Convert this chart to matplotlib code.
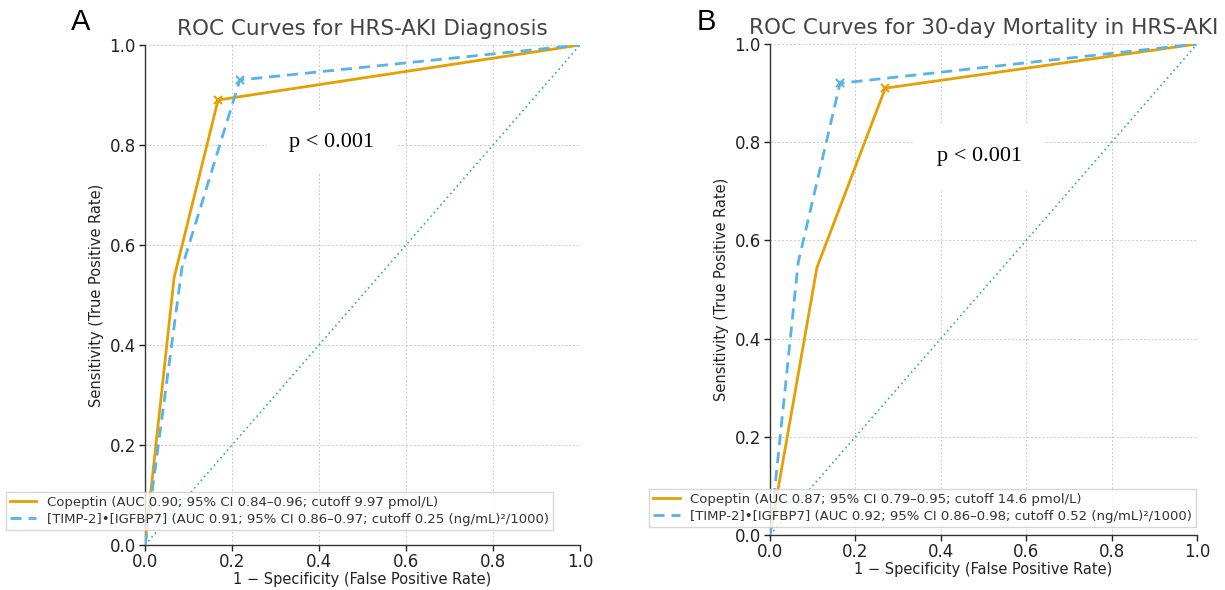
import matplotlib
matplotlib.use("Agg")
import matplotlib.pyplot as plt

# Panel A: HRS-AKI diagnosis
fpr_cop_a = [0.0, 0.067, 0.168, 1.0]
tpr_cop_a = [0.0, 0.535, 0.89, 1.0]
fpr_tim_a = [0.0, 0.085, 0.218, 1.0]
tpr_tim_a = [0.0, 0.555, 0.93, 1.0]
cut_cop_a = (0.168, 0.89)
cut_tim_a = (0.218, 0.93)

# Panel B: 30-day mortality
fpr_cop_b = [0.0, 0.11, 0.27, 1.0]
tpr_cop_b = [0.0, 0.545, 0.91, 1.0]
fpr_tim_b = [0.0, 0.066, 0.164, 1.0]
tpr_tim_b = [0.0, 0.555, 0.92, 1.0]
cut_cop_b = (0.27, 0.91)
cut_tim_b = (0.164, 0.92)

titles = ["ROC Curves for HRS-AKI Diagnosis", "ROC Curves for 30-day Mortality in HRS-AKI"]
labels_a = ["Copeptin (AUC 0.90; 95% CI 0.84–0.96; cutoff 9.97 pmol/L)",
            "[TIMP-2]•[IGFBP7] (AUC 0.91; 95% CI 0.86–0.97; cutoff 0.25 (ng/mL)²/1000)"]
labels_b = ["Copeptin (AUC 0.87; 95% CI 0.79–0.95; cutoff 14.6 pmol/L)",
            "[TIMP-2]•[IGFBP7] (AUC 0.92; 95% CI 0.86–0.98; cutoff 0.52 (ng/mL)²/1000)"]
ticks = [0.0, 0.2, 0.4, 0.6, 0.8, 1.0]

ORANGE = "#E69F00"
BLUE = "#56B4E9"
GREEN = "#2bb58a"
GRAY = "#444444"

W, H = 1225, 590
fig = plt.figure(figsize=(W / 100, H / 100), dpi=100)

def px_axes(x0, x1, ytop, ybot):
    return fig.add_axes([x0 / W, 1 - ybot / H, (x1 - x0) / W, (ybot - ytop) / H])

axA = px_axes(145, 580, 45, 545)
axB = px_axes(770, 1197, 44, 535)

panels = [
    (axA, fpr_cop_a, tpr_cop_a, fpr_tim_a, tpr_tim_a, cut_cop_a, cut_tim_a, labels_a, titles[0],
     (0.43, 0.805), (553, 530)),
    (axB, fpr_cop_b, tpr_cop_b, fpr_tim_b, tpr_tim_b, cut_cop_b, cut_tim_b, labels_b, titles[1],
     (0.49, 0.77), (1196, 527)),
]

for ax, fc, tc, ft, tt, cc, ct, labs, title, ppos, legpos in panels:
    ax.plot(fc, tc, color=ORANGE, lw=2, label=labs[0], zorder=3)
    ax.plot(ft, tt, color=BLUE, lw=2, ls=(0, (4, 2.5)), label=labs[1], zorder=3)
    ax.plot([cc[0]], [cc[1]], marker="x", color=ORANGE, ms=6, mew=1.5, zorder=4)
    ax.plot([ct[0]], [ct[1]], marker="x", color=BLUE, ms=6, mew=1.5, zorder=4)
    ax.plot([0, 1], [0, 1], color=GREEN, lw=1.2, ls=(0, (1, 2)), zorder=2)
    ax.set_xlim(0, 1)
    ax.set_ylim(0, 1)
    ax.set_xticks(ticks)
    ax.set_yticks(ticks)
    ax.grid(True, color="#cccccc", ls=(0, (2, 2)), lw=0.7)
    ax.set_axisbelow(True)
    for s in ["top", "right"]:
        ax.spines[s].set_visible(False)
    for s in ["left", "bottom"]:
        ax.spines[s].set_color("#333333")
        ax.spines[s].set_linewidth(1.0)
    ax.tick_params(labelsize=12, colors="#222222", length=4, width=1)
    ax.tick_params(axis="x", pad=1.5)
    ax.tick_params(axis="y", pad=2.5)
    ax.set_xlabel("1 − Specificity (False Positive Rate)", fontsize=10.5, color="#222222", labelpad=1)
    ax.set_ylabel("Sensitivity (True Positive Rate)", fontsize=10.5, color="#222222")
    ax.set_title(title, fontsize=15.5, color=GRAY, pad=7)
    ax.text(ppos[0], ppos[1], "p < 0.001", transform=ax.transAxes, ha="center", va="center",
            fontsize=16, family="Liberation Serif", zorder=5,
            bbox=dict(boxstyle="square,pad=1.0", fc="white", ec="none"))
    leg = ax.legend(loc="lower right", bbox_to_anchor=(legpos[0] / W, 1 - legpos[1] / H),
                    bbox_transform=fig.transFigure, fontsize=9.5, frameon=True,
                    framealpha=0.8, edgecolor="#cccccc", fancybox=False,
                    borderaxespad=0, handlelength=2.0, borderpad=0.3, labelspacing=0.3)
    for t in leg.get_texts():
        t.set_color("#333333")

fig.text(81 / W, 1 - 22 / H, "A", fontsize=21, family="Liberation Sans", ha="center", va="center")
fig.text(706 / W, 1 - 22 / H, "B", fontsize=21, family="Liberation Sans", ha="center", va="center")

fig.savefig("out.png", dpi=100)
